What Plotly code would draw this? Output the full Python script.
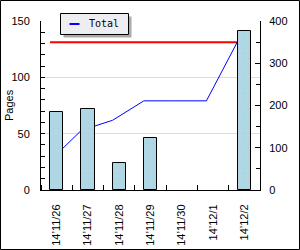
import plotly.graph_objects as go

categories = ["14’11/26", "14’11/27", "14’11/28", "14’11/29", "14’11/30", "14’12/1", "14’12/2"]
pages = [69, 72, 24, 46, 0, 0, 141]
total = [69, 141, 165, 211, 211, 211, 352]
target = [350] * 7
series_name = "Total"
left_ticks = [0, 50, 100, 150]
right_ticks = [0, 100, 200, 300, 400]

W, H = 300, 250
L, R, T, B = 41, 40, 21, 60
pw, ph = W - L - R, H - T - B
bar_w = 0.425

def px(x):
    return (x - L) / pw

def py(y):
    return (H - B - y) / ph

idx = list(range(len(categories)))
line_x = [i - bar_w / 2 for i in idx]
outline_w = [1 if v > 0 else 0 for v in pages]

fig = go.Figure()
fig.add_trace(go.Scatter(x=line_x, y=target, mode="lines", line=dict(color="red", width=2),
                         yaxis="y", showlegend=False, hoverinfo="skip"))
fig.add_trace(go.Scatter(x=line_x, y=total, mode="lines", line=dict(color="blue", width=1),
                         yaxis="y", name=series_name, showlegend=False))
fig.add_trace(go.Bar(x=idx, y=pages, width=bar_w, yaxis="y2",
                     marker=dict(color="#add8e6", line=dict(color="black", width=outline_w),
                                 pattern=dict(shape=".", fgcolor="#e0b4c4", size=5, solidity=0.12)),
                     showlegend=False))

font = dict(family="Liberation Sans", size=11, color="black")

fig.update_layout(
    width=W, height=H, margin=dict(l=L, r=R, t=T, b=B, autoexpand=False),
    paper_bgcolor="white", plot_bgcolor="white", font=font,
    bargap=0,
    xaxis=dict(range=[-0.5, 6.5], tickvals=idx, ticktext=categories, tickangle=-90,
               ticks="", showline=True, linecolor="black", linewidth=1, showgrid=False,
               zeroline=False, ticklabelstandoff=9, tickfont=font, automargin=False,
               minor=dict(tick0=-0.5, dtick=1, ticks="inside", ticklen=5, tickcolor="black", showgrid=False)),
    yaxis=dict(range=[0, 400], side="right", tickvals=right_ticks, ticks="inside", ticklen=5,
               tickcolor="black", showline=True, linecolor="black", linewidth=1, showgrid=False,
               zeroline=False, ticklabelstandoff=6, tickfont=font, automargin=False,
               minor=dict(dtick=50, ticks="inside", ticklen=4, tickcolor="black", showgrid=False)),
    yaxis2=dict(range=[0, 150], side="left", overlaying="y", tickvals=left_ticks, ticks="inside",
                ticklen=4, tickcolor="black", showline=True, linecolor="black", linewidth=1,
                showgrid=True, gridcolor="#dddddd", gridwidth=1, zeroline=False,
                ticklabelstandoff=8, tickfont=font, automargin=False,
                minor=dict(dtick=10, ticks="inside", ticklen=4, tickcolor="black", showgrid=False)),
    shapes=[
        dict(type="rect", xref="paper", yref="paper", x0=px(0.5), x1=px(299.5), y0=py(0.5), y1=py(249.5),
             line=dict(color="black", width=1), fillcolor="rgba(0,0,0,0)", layer="above"),
        dict(type="rect", xref="paper", yref="paper", x0=px(63.5), x1=px(131.5), y0=py(16.5), y1=py(37.5),
             line=dict(width=0), fillcolor="#aaaaaa", layer="above"),
        dict(type="rect", xref="paper", yref="paper", x0=px(60.5), x1=px(128.5), y0=py(13.5), y1=py(34.5),
             line=dict(color="black", width=1), fillcolor="#eeeef2", layer="above"),
        dict(type="line", xref="paper", yref="paper", x0=px(69.5), x1=px(79.5), y0=py(24), y1=py(24),
             line=dict(color="blue", width=2), layer="above"),
    ],
    annotations=[
        dict(text=series_name, xref="paper", yref="paper", x=px(87), y=py(24), xanchor="left",
             yanchor="middle", showarrow=False, font=dict(family="DejaVu Sans Mono", size=10, color="black")),
        dict(text="Pages", xref="paper", yref="paper", x=px(9), y=py(105), textangle=-90,
             xanchor="center", yanchor="middle", showarrow=False, font=font),
    ],
)

fig.write_html("out.html")
